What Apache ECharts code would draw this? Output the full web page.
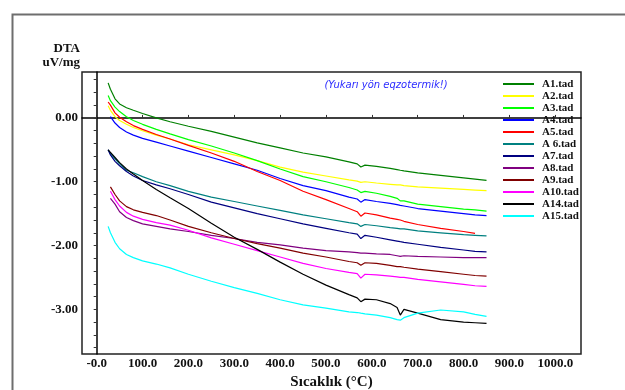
<!DOCTYPE html>
<html>
<head>
<meta charset="utf-8">
<script src="https://cdn.jsdelivr.net/npm/echarts@6/dist/echarts.min.js"></script>
<style>
  html, body { margin: 0; padding: 0; background: #fff; }
  #chart { width: 625px; height: 390px; }
</style>
</head>
<body>
<div id="chart"></div>
<script>
// temperature (°C) sample points shared by all curves
const temps = [25, 30, 40, 50, 65, 80, 100, 130, 160, 200, 250, 300, 350, 400, 450, 500, 550, 568, 576, 585, 610, 640, 655, 662, 670, 700, 750, 800, 825, 850];

// DTA signal, uV/mg
const a1  = [0.55, 0.45, 0.30, 0.22, 0.16, 0.12, 0.07, 0.00, -0.06, -0.13, -0.21, -0.30, -0.39, -0.47, -0.55, -0.61, -0.69, -0.72, -0.77, -0.74, -0.76, -0.79, -0.81, -0.82, -0.83, -0.86, -0.90, -0.94, -0.96, -0.98];
const a2  = [0.19, 0.12, 0.02, -0.04, -0.10, -0.15, -0.20, -0.27, -0.33, -0.42, -0.50, -0.58, -0.67, -0.77, -0.85, -0.91, -0.97, -0.99, -1.01, -1.00, -1.02, -1.04, -1.05, -1.05, -1.06, -1.08, -1.10, -1.12, -1.13, -1.14];
const a3  = [0.35, 0.27, 0.17, 0.10, 0.02, -0.04, -0.10, -0.18, -0.25, -0.34, -0.44, -0.55, -0.67, -0.80, -0.92, -1.00, -1.09, -1.13, -1.17, -1.15, -1.18, -1.23, -1.26, -1.30, -1.30, -1.35, -1.39, -1.43, -1.44, -1.46];
const a4  = [null, 0.02, -0.08, -0.15, -0.22, -0.27, -0.32, -0.38, -0.44, -0.52, -0.62, -0.72, -0.82, -0.95, -1.06, -1.14, -1.24, -1.27, -1.32, -1.28, -1.31, -1.34, -1.36, -1.37, -1.38, -1.42, -1.46, -1.50, -1.52, -1.53];
const a5  = [0.25, 0.20, 0.08, 0.01, -0.06, -0.12, -0.18, -0.26, -0.33, -0.43, -0.55, -0.68, -0.84, -0.98, -1.15, -1.28, -1.42, -1.47, -1.54, -1.49, -1.52, -1.57, -1.59, -1.60, -1.62, -1.67, -1.73, -1.78, -1.81, null];
const a6  = [-0.50, -0.56, -0.64, -0.72, -0.82, -0.86, -0.92, -1.00, -1.06, -1.15, -1.24, -1.31, -1.38, -1.45, -1.52, -1.58, -1.64, -1.66, -1.70, -1.67, -1.69, -1.72, -1.73, -1.74, -1.74, -1.77, -1.80, -1.83, -1.84, -1.85];
const a7  = [-0.50, -0.58, -0.68, -0.75, -0.84, -0.91, -0.98, -1.05, -1.11, -1.20, -1.32, -1.41, -1.50, -1.58, -1.66, -1.73, -1.80, -1.82, -1.89, -1.84, -1.87, -1.91, -1.93, -1.94, -1.95, -1.98, -2.03, -2.07, -2.09, -2.10];
const a8  = [null, -1.26, -1.35, -1.47, -1.56, -1.61, -1.66, -1.70, -1.74, -1.78, -1.84, -1.89, -1.95, -1.99, -2.04, -2.08, -2.10, -2.11, -2.12, -2.12, -2.13, -2.14, -2.16, -2.17, -2.16, -2.17, -2.18, -2.19, -2.19, -2.19];
const a9  = [null, -1.08, -1.20, -1.30, -1.39, -1.44, -1.48, -1.53, -1.60, -1.70, -1.80, -1.89, -1.97, -2.04, -2.12, -2.18, -2.25, -2.27, -2.31, -2.27, -2.28, -2.31, -2.33, -2.33, -2.34, -2.37, -2.41, -2.45, -2.47, -2.48];
const a10 = [null, -1.15, -1.28, -1.38, -1.48, -1.54, -1.59, -1.64, -1.68, -1.76, -1.88, -1.98, -2.08, -2.18, -2.28, -2.36, -2.42, -2.44, -2.51, -2.45, -2.46, -2.48, -2.49, -2.50, -2.50, -2.53, -2.57, -2.61, -2.63, -2.64];
const a14 = [-0.50, -0.54, -0.62, -0.70, -0.80, -0.88, -0.98, -1.12, -1.25, -1.42, -1.65, -1.87, -2.06, -2.26, -2.45, -2.62, -2.77, -2.82, -2.88, -2.84, -2.85, -2.91, -2.97, -3.09, -3.00, -3.06, -3.16, -3.20, -3.21, -3.22];
const a15 = [-1.70, -1.80, -1.95, -2.05, -2.14, -2.19, -2.24, -2.29, -2.35, -2.45, -2.56, -2.66, -2.75, -2.85, -2.93, -2.98, -3.04, -3.05, -3.06, -3.07, -3.09, -3.13, -3.16, -3.17, -3.13, -3.06, -3.01, -3.04, -3.08, -3.11];

const seriesNames = ["A1.tad", "A2.tad", "A3.tad", "A4.tad", "A5.tad", "A 6.tad", "A7.tad", "A8.tad", "A9.tad", "A10.tad", "A14.tad", "A15.tad"];
const seriesValues = [a1, a2, a3, a4, a5, a6, a7, a8, a9, a10, a14, a15];
const seriesColors = ["#008000", "#ffff00", "#00ff00", "#0000ff", "#ff0000", "#008080", "#000080", "#800080", "#800000", "#ff00ff", "#000000", "#00ffff"];

const xTicks = [0, 100, 200, 300, 400, 500, 600, 700, 800, 900, 1000];
const xTickLabels = ["-0.0", "100.0", "200.0", "300.0", "400.0", "500.0", "600.0", "700.0", "800.0", "900.0", "1000.0"];
const yLabelValues = [0, -1, -2, -3];

// small y ticks every 0.2
const yTicks = [];
for (let v = -18; v <= 3; v++) yTicks.push(Math.round(v * 20) / 100);

const serif = "'Liberation Serif', 'Times New Roman', serif";

const chart = echarts.init(document.getElementById("chart"), null, { renderer: "canvas" });

const option = {
  animation: false,
  backgroundColor: "#fff",
  grid: {
    left: 82, top: 72, right: 44, bottom: 36,
    outerBoundsMode: "none",
    show: true, borderColor: "#222", borderWidth: 1.5, backgroundColor: "transparent"
  },
  legend: {
    orient: "vertical",
    left: 503, top: 78,
    padding: 0,
    icon: "rect",
    itemWidth: 31, itemHeight: 2, itemGap: 0,
    textStyle: { fontFamily: serif, fontWeight: "bold", fontSize: 11, lineHeight: 12, color: "#111", padding: [0, 0, 0, 3] },
    data: seriesNames
  },
  xAxis: {
    type: "value",
    min: -32, max: 1056,
    axisLine: { lineStyle: { color: "#000", width: 1.5 } },
    axisTick: { inside: true, length: 3, customValues: xTicks, lineStyle: { color: "#333" } },
    axisLabel: {
      customValues: xTicks, margin: 3,
      fontFamily: serif, fontWeight: "bold", fontSize: 13, color: "#111",
      formatter: (v) => xTickLabels[xTicks.indexOf(Math.round(v))]
    },
    splitLine: { show: false },
    name: "Sıcaklık (°C)", nameLocation: "middle", nameGap: 21,
    nameTextStyle: { fontFamily: serif, fontWeight: "bold", fontSize: 15, color: "#111" }
  },
  yAxis: {
    type: "value",
    min: -3.70, max: 0.72,
    axisLine: { show: true, lineStyle: { color: "#000", width: 1.5 } },
    axisTick: { show: true, length: 3, customValues: yTicks, lineStyle: { color: "#333" } },
    axisLabel: {
      customValues: yLabelValues, margin: 4,
      fontFamily: serif, fontWeight: "bold", fontSize: 13, color: "#111",
      formatter: (v) => v.toFixed(2)
    },
    splitLine: { show: false }
  },
  graphic: [
    { type: "rect", left: 10, top: 12, shape: { width: 700, height: 500 },
      style: { fill: "none", stroke: "#6e6e6e", lineWidth: 2 }, silent: true },
    { type: "text", x: 80, y: 42,
      style: { text: "DTA\nuV/mg", align: "right", font: "bold 13px " + serif, lineHeight: 14, fill: "#111" } },
    { type: "text", x: 386, y: 85,
      style: { text: "(Yukarı yön eqzotermik!)", align: "center", verticalAlign: "middle",
               font: "italic 10px 'DejaVu Sans', Verdana, sans-serif", fill: "#2a2aff" } }
  ],
  series: seriesNames.map((name, i) => ({
    name,
    type: "line",
    showSymbol: false,
    symbol: "none",
    color: seriesColors[i],
    lineStyle: { width: 1.2, color: seriesColors[i] },
    data: temps.map((t, j) => [t, seriesValues[i][j]])
  }))
};

chart.setOption(option);
</script>
</body>
</html>
